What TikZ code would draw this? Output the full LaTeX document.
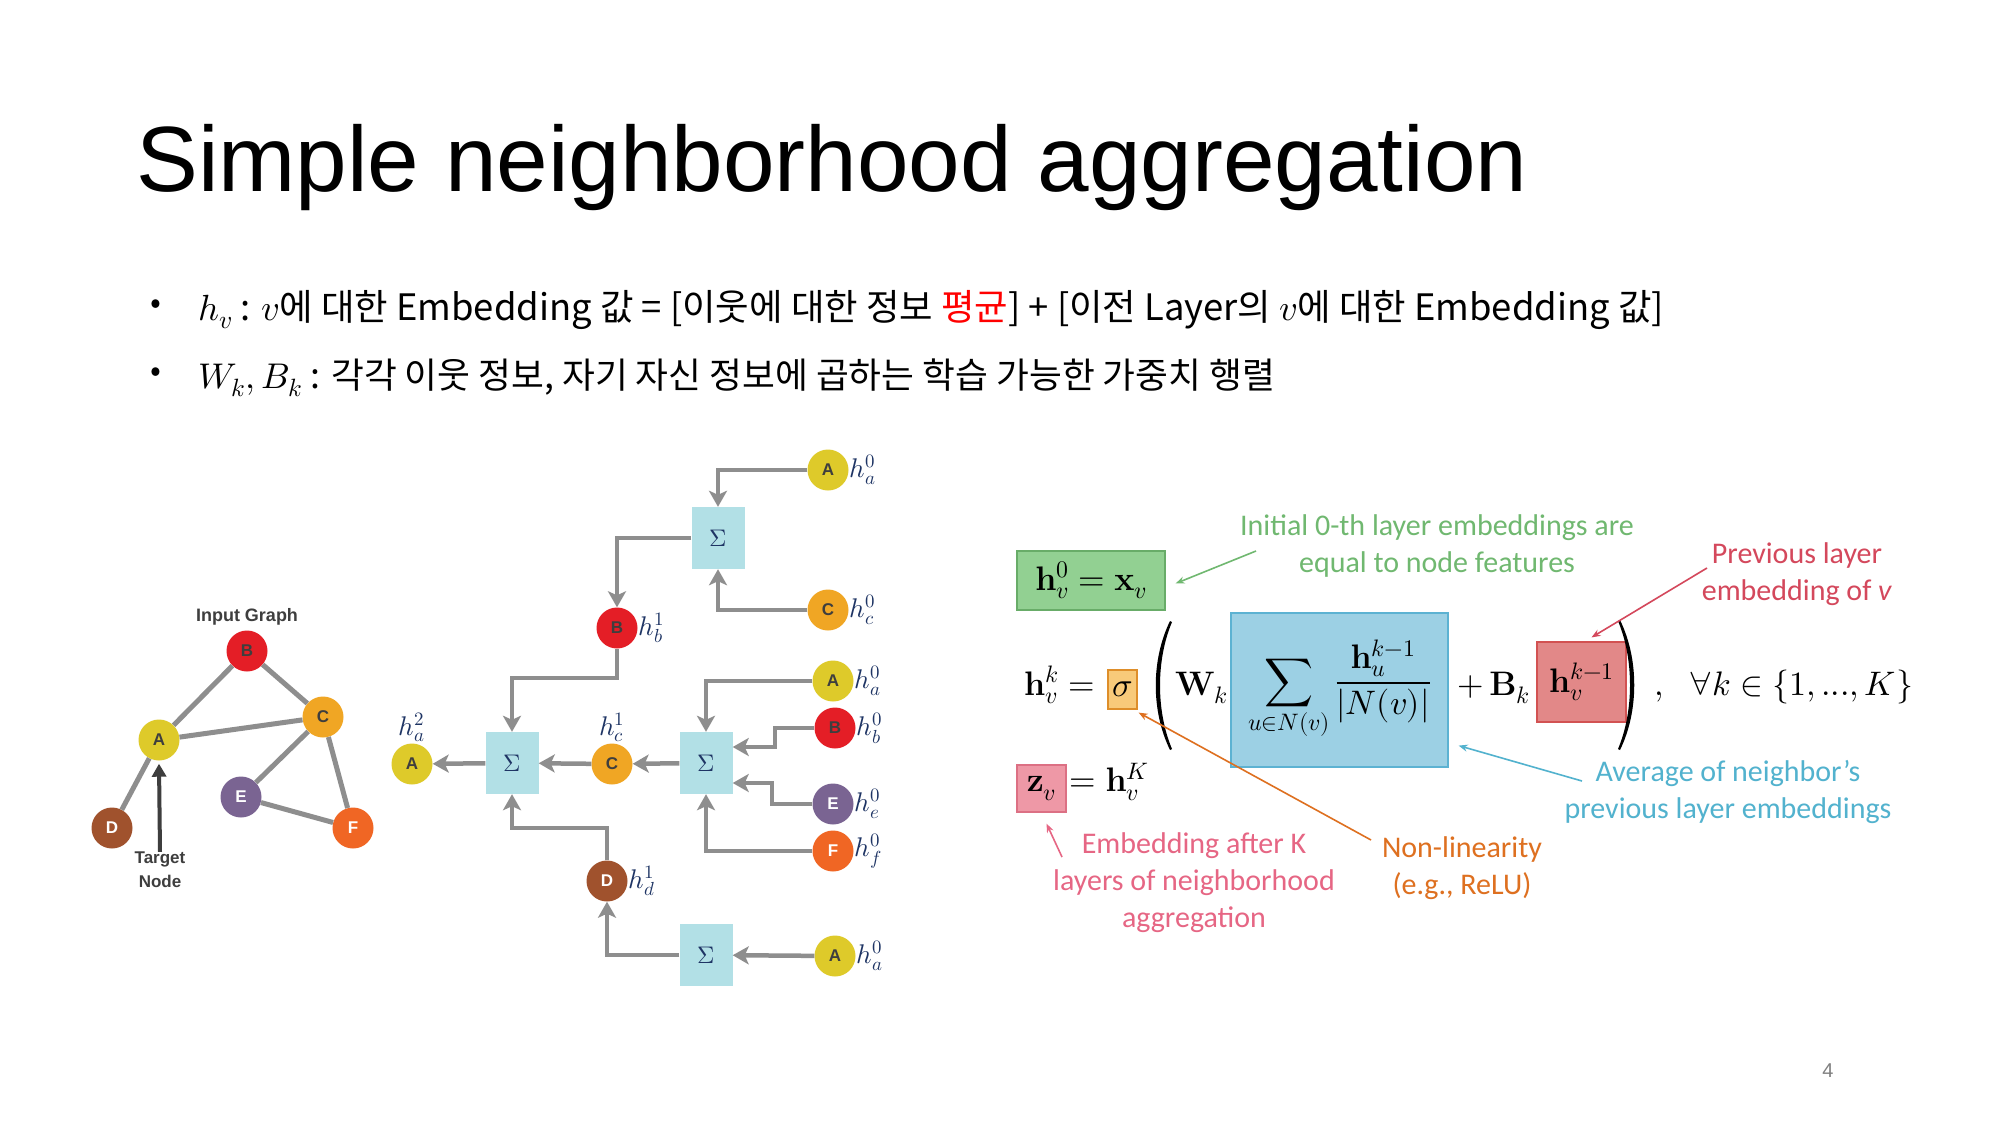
\documentclass[tikz,border=0pt]{standalone}
\usepackage{fontspec}
\usepackage{unicode-math}
\setmathfont{Latin Modern Math}
\newfontfamily\titlefont{Liberation Sans}
\newfontfamily\korfont{Noto Sans CJK KR}
\newfontfamily\notefont{Carlito}
\usepackage{tikz}
\usetikzlibrary{arrows.meta}
\usepackage{color}
\definecolor{nbyellow}{RGB}{222,202,42}
\definecolor{nbred}{RGB}{228,30,38}
\definecolor{nborange}{RGB}{240,166,36}
\definecolor{nbbrown}{RGB}{160,82,45}
\definecolor{nbpurple}{RGB}{122,100,146}
\definecolor{nbfire}{RGB}{240,102,36}
\definecolor{nbsky}{RGB}{178,224,230}
\definecolor{nbgray}{RGB}{142,142,142}
\definecolor{nbdark}{RGB}{62,62,62}
\definecolor{nbnavy}{RGB}{30,52,100}
\definecolor{eqgreen}{RGB}{146,208,146}
\definecolor{eqgreenln}{RGB}{104,172,104}
\definecolor{eqgreentx}{RGB}{112,184,112}
\definecolor{eqorange}{RGB}{248,202,122}
\definecolor{eqorangeln}{RGB}{222,142,42}
\definecolor{eqorangetx}{RGB}{222,112,32}
\definecolor{eqblue}{RGB}{156,208,228}
\definecolor{eqblueln}{RGB}{92,178,210}
\definecolor{eqbluetx}{RGB}{82,178,206}
\definecolor{eqred}{RGB}{226,136,136}
\definecolor{eqredln}{RGB}{210,82,82}
\definecolor{eqredtx}{RGB}{212,72,92}
\definecolor{eqpink}{RGB}{238,152,166}
\definecolor{eqpinkln}{RGB}{220,112,132}
\definecolor{eqpinktx}{RGB}{230,102,132}

\begin{document}
\begin{tikzpicture}[x=1pt, y=-1pt,
  vtx/.style={circle, minimum size=41pt, inner sep=0pt, text=nbdark,
    font=\titlefont\bfseries\fontsize{17}{17}\selectfont},
  hlab/.style={text=nbnavy, inner sep=1pt, font=\fontsize{27}{27}\selectfont},
  agg/.style={fill=nbsky, minimum width=53pt, minimum height=62pt, inner sep=0pt,
    text=nbnavy, font=\fontsize{24}{24}\selectfont},
  flow/.style={nbgray, line width=4.5pt, -{Stealth[length=16pt, width=18pt, inset=4pt]}},
  gedge/.style={nbgray, line width=5pt},
  eq/.style={inner sep=0pt, font=\fontsize{34}{40}\selectfont},
  note/.style={inner sep=0pt, align=center, font=\notefont\fontsize{30}{37}\selectfont},
  ptr/.style={line width=1.6pt, -{Stealth[length=9pt, width=7pt]}}]
  \useasboundingbox[fill=white] (0,0) rectangle (2000,1125);

  % Title and bullets
  \node[anchor=base west, inner sep=0pt, font=\titlefont\fontsize{92.7}{93}\selectfont]
    (title) at (136,191) {Simple neighborhood aggregation};
  \node[font=\korfont\fontsize{32}{32}\selectfont] (dot1) at (156,307) {•};
  \node[font=\korfont\fontsize{32}{32}\selectfont] (dot2) at (156,375) {•};
  \node[anchor=base west, inner sep=0pt, font=\korfont\fontsize{36.4}{36}\selectfont] (line1) at (198,320)
    {$h_v$ : $v$에 대한 Embedding 값 = [이웃에 대한 정보 \textcolor{red}{평균}] + [이전 Layer의 $v$에 대한 Embedding 값]};
  \node[anchor=base west, inner sep=0pt, font=\korfont\fontsize{35.7}{36}\selectfont] (line2) at (198,388)
    {$W_k, B_k$ : 각각 이웃 정보, 자기 자신 정보에 곱하는 학습 가능한 가중치 행렬};

  % Input graph
  \node[font=\titlefont\bfseries\fontsize{18}{18}\selectfont, text=nbdark] (ghead) at (247,617) {Input Graph};
  \node[vtx, fill=nbred] (gb) at (247,651) {B};
  \node[vtx, fill=nborange] (gc) at (323,717) {C};
  \node[vtx, fill=nbyellow] (ga) at (159,740) {A};
  \node[vtx, fill=nbpurple, text=white] (ge) at (241,797) {E};
  \node[vtx, fill=nbbrown, text=white] (gd) at (112,828) {D};
  \node[vtx, fill=nbfire, text=white] (gf) at (353,828) {F};
  \draw[gedge] (ga) -- (gb);
  \draw[gedge] (gb) -- (gc);
  \draw[gedge] (ga) -- (gc);
  \draw[gedge] (ga) -- (gd);
  \draw[gedge] (gc) -- (ge);
  \draw[gedge] (gc) -- (gf);
  \draw[gedge] (ge) -- (gf);
  \node[align=center, inner sep=0pt, text=nbdark, font=\titlefont\bfseries\fontsize{17}{24}\selectfont]
    (tnode) at (160,870) {Target\\Node};
  \draw[nbdark, line width=4pt, -{Triangle[length=13pt, width=14pt]}] (tnode.north) -- ([yshift=-3pt]ga.south);

  % Computation tree
  \node[vtx, fill=nbyellow, label={[hlab]right:$h_a^0$}] (ta) at (828,470) {A};
  \node[vtx, fill=nborange, label={[hlab]right:$h_c^0$}] (tc) at (828,610) {C};
  \node[agg] (s1) at (718,538) {$\Sigma$};
  \node[vtx, fill=nbred, label={[hlab]right:$h_b^1$}] (b1) at (617,628) {B};
  \node[vtx, fill=nbyellow, label={[hlab]right:$h_a^0$}] (ma) at (833,681) {A};
  \node[vtx, fill=nbred, label={[hlab]right:$h_b^0$}] (mb) at (835,728) {B};
  \node[vtx, fill=nbpurple, text=white, label={[hlab]right:$h_e^0$}] (me) at (833,804) {E};
  \node[vtx, fill=nbfire, text=white, label={[hlab]right:$h_f^0$}] (mf) at (833,851) {F};
  \node[agg] (s2) at (706,763) {$\Sigma$};
  \node[vtx, fill=nborange, label={[hlab]above:$h_c^1$}] (c1) at (612,764) {C};
  \node[agg] (s0) at (512,763) {$\Sigma$};
  \node[vtx, fill=nbyellow, label={[hlab]above:$h_a^2$}] (a2) at (412,764) {A};
  \node[vtx, fill=nbbrown, text=white, label={[hlab]right:$h_d^1$}] (d1) at (607,881) {D};
  \node[agg] (s3) at (706,955) {$\Sigma$};
  \node[vtx, fill=nbyellow, label={[hlab]right:$h_a^0$}] (ba) at (835,956) {A};
  \coordinate (bj) at (617,678);
  \coordinate (dj) at (607,828);
  \coordinate (mbj) at (775,747);
  \coordinate (mej) at (772,783);

  \draw[flow] (ta) -| (s1);
  \draw[flow] (tc) -| (s1);
  \draw[flow] (s1) -| (b1);
  \draw[flow] (b1) -- (bj) -| (s0);
  \draw[flow] (d1) -- (dj) -| (s0);
  \draw[flow] (ma) -| (s2);
  \draw[flow] (mb) -| (mbj) -- (mbj -| s2.east);
  \draw[flow] (me) -| (mej) -- (mej -| s2.east);
  \draw[flow] (mf) -| (s2);
  \draw[flow] (s2) -- (c1);
  \draw[flow] (c1) -- (s0);
  \draw[flow] (s0) -- (a2);
  \draw[flow] (ba) -- (s3);
  \draw[flow] (s3) -| (d1);

  % Update rule
  \node[eq, draw=eqgreenln, fill=eqgreen, line width=1.2pt, minimum width=148pt, minimum height=59pt]
    (hzero) at (1091,580.5) {$\mathbf{h}_v^0=\mathbf{x}_v$};
  \node[eq, anchor=base west] (hk) at (1024,695) {$\mathbf{h}_v^k=$};
  \node[eq, draw=eqorangeln, fill=eqorange, line width=1.2pt, minimum width=29pt, minimum height=39pt]
    (sig) at (1122.5,689.5) {$\sigma$};
  \node[eq, anchor=base west] (wk) at (1175,695) {$\mathbf{W}_k$};
  \node[eq, draw=eqblueln, fill=eqblue, line width=1.2pt, minimum width=217pt, minimum height=154pt]
    (avg) at (1339.5,690) {$\displaystyle\sum_{u\in N(v)}\frac{\mathbf{h}_u^{k-1}}{|N(v)|}$};
  \node[eq, anchor=base west] (bk) at (1457,695) {$+\,\mathbf{B}_k$};
  \node[eq, draw=eqredln, fill=eqred, line width=1.2pt, minimum width=89pt, minimum height=80pt]
    (prev) at (1581.5,682) {$\mathbf{h}_v^{k-1}$};
  \node[eq, anchor=base west] (rng) at (1654,695) {$,\ \ \forall k\in\{1,...,K\}$};
  \node[eq, draw=eqpinkln, fill=eqpink, line width=1.2pt, minimum width=49pt, minimum height=47pt]
    (zv) at (1041.5,788.5) {$\mathbf{z}_v$};
  \node[eq, anchor=base west] (zk) at ([xshift=3pt]zv.base east) {$=\mathbf{h}_v^K$};
  % big parentheses
  \fill (1170,621) .. controls (1151,660) and (1151,711) .. (1170,750)
    -- (1172,749) .. controls (1156,711) and (1156,660) .. (1172,622) -- cycle;
  \fill (1620,620) .. controls (1639,659) and (1639,711) .. (1620,750)
    -- (1618,749) .. controls (1634,711) and (1634,659) .. (1618,621) -- cycle;

  % Notes
  \node[note, text=eqgreentx] (initnote) at (1437,546) {Initial 0-th layer embeddings are\\equal to node features};
  \node[note, text=eqredtx] (prevnote) at (1797,574) {Previous layer\\embedding of \textit{v}};
  \node[note, text=eqbluetx] (avgnote) at (1728,792) {Average of neighbor’s\\previous layer embeddings};
  \node[note, text=eqpinktx] (outnote) at (1194,883) {Embedding after K\\layers of neighborhood\\aggregation};
  \node[note, text=eqorangetx] (relunote) at (1462,868) {Non-linearity\\(e.g., ReLU)};
  \coordinate (g0) at (1256,551);
  \coordinate (r0) at (1707,568);
  \coordinate (b0) at (1582,781);
  \coordinate (o0) at (1371,840);
  \coordinate (z0) at (1062,857);
  \draw[ptr, eqgreentx] (g0) -- ([xshift=10pt, yshift=-3pt]hzero.east);
  \draw[ptr, eqredtx] (r0) -- ([xshift=10pt, yshift=4pt]prev.north);
  \draw[ptr, eqbluetx] (b0) -- ([xshift=10pt, yshift=22pt]avg.south east);
  \draw[ptr, eqorangetx] (o0) -- ([xshift=1pt, yshift=-3pt]sig.south east);
  \draw[ptr, eqpinktx] (z0) -- ([xshift=5pt, yshift=-11pt]zv.south);

  \node[font=\titlefont\fontsize{20}{20}\selectfont, text=gray] (pageno) at (1828,1071) {4};
\end{tikzpicture}
\end{document}
